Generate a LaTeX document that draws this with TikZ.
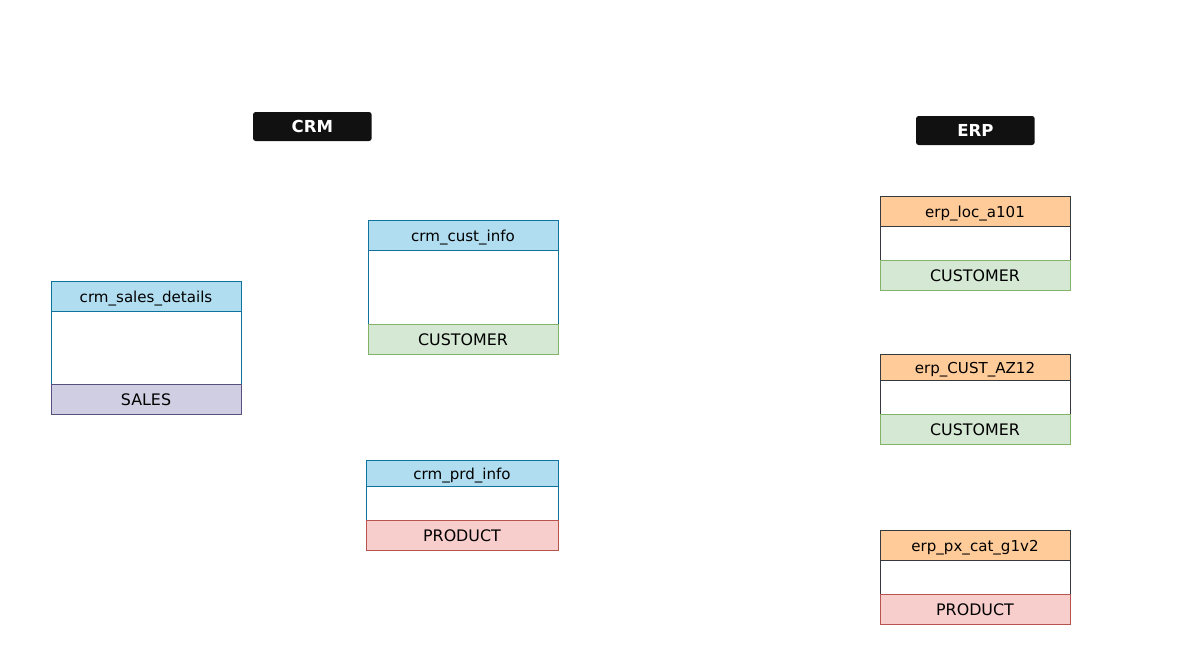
\documentclass[tikz,border=0pt]{standalone}
\usepackage{fontspec}
\setmainfont{DejaVu Sans}
\usetikzlibrary{positioning}
\definecolor{hdrblue}{HTML}{B1DDF0}
\definecolor{lineblue}{HTML}{10739E}
\definecolor{hdrorange}{HTML}{FFCC99}
\definecolor{linegray}{HTML}{36393D}
\definecolor{custgreen}{HTML}{D5E8D4}
\definecolor{linegreen}{HTML}{82B366}
\definecolor{prodred}{HTML}{F8CECC}
\definecolor{linered}{HTML}{B85450}
\definecolor{salespurple}{HTML}{D0CEE2}
\definecolor{linepurple}{HTML}{56517E}
\definecolor{tagblack}{HTML}{111111}
\tikzset{
	cell/.style={draw, line width=0.75pt, inner sep=0pt, outer sep=0pt, minimum width=142.5pt, text height=1.7ex, text depth=0pt},
	crmhead/.style={cell, fill=hdrblue, draw=lineblue, minimum height=22.5pt, font=\fontsize{11.3}{13}\selectfont},
	erphead/.style={cell, fill=hdrorange, draw=linegray, minimum height=22.5pt, font=\fontsize{11.3}{13}\selectfont},
	custfoot/.style={cell, fill=custgreen, draw=linegreen, minimum height=22.5pt, font=\fontsize{11.9}{14}\selectfont},
	prodfoot/.style={cell, fill=prodred, draw=linered, minimum height=22.5pt, font=\fontsize{11.9}{14}\selectfont},
	salesfoot/.style={cell, fill=salespurple, draw=linepurple, minimum height=22.5pt, font=\fontsize{11.9}{14}\selectfont},
	systag/.style={fill=tagblack, rounded corners=2pt, text=white, inner sep=0pt, outer sep=0pt, minimum width=89pt, minimum height=21.75pt, text height=1.7ex, text depth=0pt, font=\bfseries\fontsize{12.4}{14}\selectfont}
}

\begin{document}
\begin{tikzpicture}[x=0.75pt, y=-0.75pt]
		%%%%% START %%%%%
		\useasboundingbox[fill=white] (0, 0) rectangle (1191, 651);
		
		\node[systag, anchor=north west] (crmtag) at (253, 112) {CRM};
		\node[systag, anchor=north west] (erptag) at (916, 116) {ERP};
		
		% crm tables
		\node[crmhead, anchor=north west] (salesHead) at (51, 281) {crm\_sales\_details};
		\node[cell, draw=lineblue, minimum height=54.75pt, below=0pt of salesHead] (salesBody) {};
		\node[salesfoot, below=0pt of salesBody] (salesFoot) {SALES};
		
		\node[crmhead, anchor=north west] (custHead) at (368, 220) {crm\_cust\_info};
		\node[cell, draw=lineblue, minimum height=55.5pt, below=0pt of custHead] (custBody) {};
		\node[custfoot, below=0pt of custBody] (custFoot) {CUSTOMER};
		
		\node[crmhead, anchor=north west, minimum height=19.5pt, minimum width=144pt] (prdHead) at (366, 460) {crm\_prd\_info};
		\node[cell, draw=lineblue, minimum height=25.5pt, minimum width=144pt, below=0pt of prdHead] (prdBody) {};
		\node[prodfoot, minimum width=144pt, below=0pt of prdBody] (prdFoot) {PRODUCT};
		
		% erp tables
		\node[erphead, anchor=north west] (locHead) at (880, 196) {erp\_loc\_a101};
		\node[cell, draw=linegray, minimum height=25.5pt, below=0pt of locHead] (locBody) {};
		\node[custfoot, below=0pt of locBody] (locFoot) {CUSTOMER};
		
		\node[erphead, anchor=north west, minimum height=19.5pt] (azHead) at (880, 354) {erp\_CUST\_AZ12};
		\node[cell, draw=linegray, minimum height=25.5pt, below=0pt of azHead] (azBody) {};
		\node[custfoot, below=0pt of azBody] (azFoot) {CUSTOMER};
		
		\node[erphead, anchor=north west] (catHead) at (880, 530) {erp\_px\_cat\_g1v2};
		\node[cell, draw=linegray, minimum height=25.5pt, below=0pt of catHead] (catBody) {};
		\node[prodfoot, below=0pt of catBody] (catFoot) {PRODUCT};
		%%%%% END %%%%%
\end{tikzpicture}
\end{document}
